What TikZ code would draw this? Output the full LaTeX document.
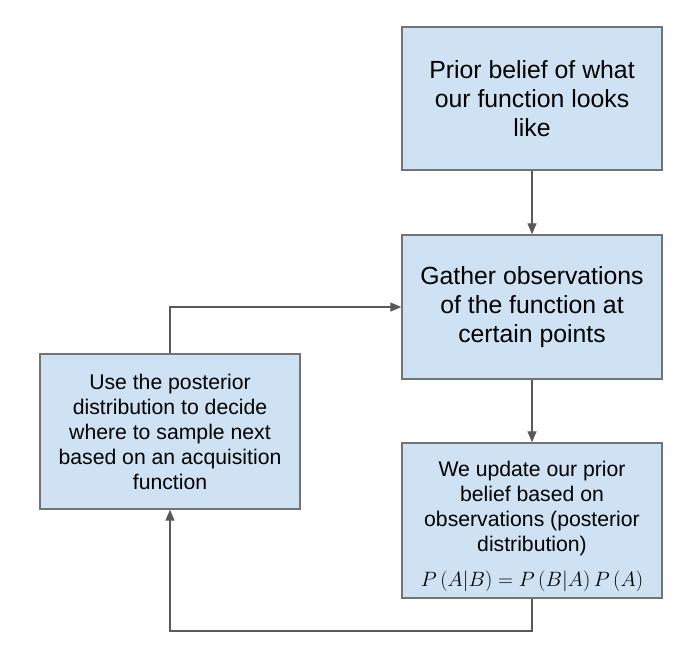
\documentclass[tikz,border=0pt]{standalone}
\usepackage{fontspec}
\setmainfont{Liberation Sans}
\usetikzlibrary{arrows.meta}
\definecolor{boxfill}{HTML}{CFE2F3}
\definecolor{boxline}{HTML}{737373}
\definecolor{arrowline}{HTML}{595959}
\begin{document}
\begin{tikzpicture}[x=1pt,y=-1pt,
  box/.style={draw=boxline, line width=1.4pt, fill=boxfill, rectangle,
    minimum width=260pt, inner sep=0pt, align=center},
  bigtext/.style={font=\fontsize{24.8}{28.8}\selectfont},
  smalltext/.style={font=\fontsize{21.2}{25}\selectfont},
  txt/.style={inner sep=0pt, align=center},
  conn/.style={draw=arrowline, line width=1.3pt, -{Triangle[length=11pt,width=9pt]}}
]
\useasboundingbox (0,0) rectangle (690,657);
\node[box, bigtext, minimum height=143pt] (b1) at (532,98.5)
  {Prior belief of what\\our function looks\\like};
\node[box, bigtext, minimum height=144pt] (b2) at (532,307)
  {Gather observations\\of the function at\\certain points};
\node[box, minimum height=155pt] (b3) at (532,520.5) {};
\node[txt, smalltext, anchor=north] (b3t) at (532,460.8)
  {We update our prior\\belief based on\\observations (posterior\\distribution)};
\node[txt, smalltext, anchor=base] (b3f) at (532,586)
  {$P\left(A\middle|B\right)=P\left(B\middle|A\right)P\left(A\right)$};
\node[box, smalltext, minimum height=155pt] (b4) at (170,431.5)
  {Use the posterior\\distribution to decide\\where to sample next\\based on an acquisition\\function};
\coordinate (c1) at (532,631);
\draw[conn] (b1.south) -- (b2.north);
\draw[conn] (b2.south) -- (b3.north);
\draw[conn] (b3.south) -- (c1) -| (b4.south);
\draw[conn] (b4.north) |- (b2.west);
\end{tikzpicture}
\end{document}
